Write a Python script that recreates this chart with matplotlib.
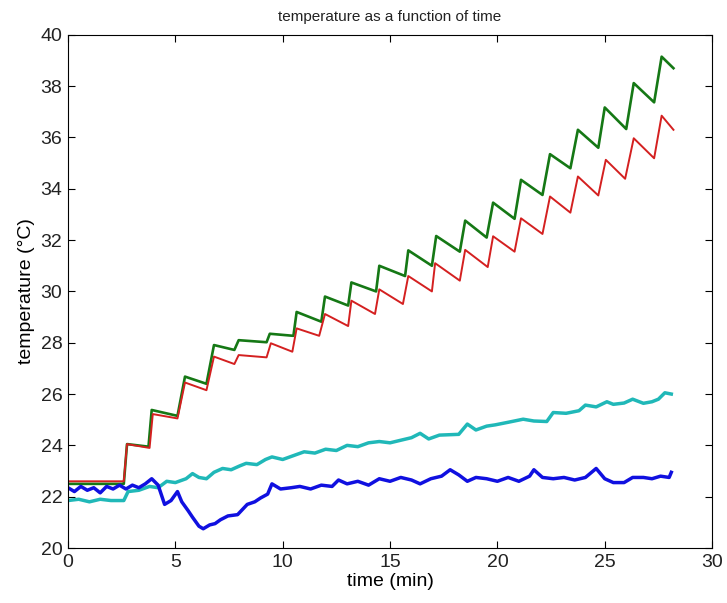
import matplotlib
matplotlib.use("Agg")
import matplotlib.pyplot as plt

# readings: time (min), temperature (degC)
green_t = [0, 2.6, 2.75, 3.75, 3.9, 5.1, 5.45, 6.45, 6.8, 7.75, 7.95, 9.25, 9.4, 10.5,
           10.65, 11.8, 11.97, 13.05, 13.2, 14.35, 14.5, 15.7, 15.85, 16.95, 17.15, 18.25,
           18.5, 19.5, 19.8, 20.8, 21.1, 22.1, 22.45, 23.4, 23.75, 24.7, 25.0, 26.0, 26.35,
           27.3, 27.65, 28.2]
green_T = [22.5, 22.5, 24.05, 23.95, 25.38, 25.15, 26.68, 26.4, 27.91, 27.72, 28.1, 28.02,
           28.35, 28.27, 29.2, 28.82, 29.8, 29.45, 30.35, 30.0, 31.0, 30.6, 31.6, 31.0, 32.16,
           31.55, 32.76, 32.1, 33.46, 32.83, 34.35, 33.76, 35.35, 34.8, 36.3, 35.6, 37.17,
           36.33, 38.12, 37.37, 39.15, 38.7]

red_t = [0, 2.6, 2.75, 3.8, 3.95, 5.1, 5.45, 6.45, 6.8, 7.75, 7.95, 9.25, 9.45, 10.45,
         10.65, 11.7, 11.97, 13.05, 13.2, 14.3, 14.5, 15.6, 15.85, 16.95, 17.1, 18.25, 18.5,
         19.55, 19.8, 20.8, 21.1, 22.1, 22.45, 23.4, 23.75, 24.7, 25.05, 25.95, 26.35, 27.3,
         27.65, 28.2]
red_T = [22.6, 22.6, 24.05, 23.9, 25.22, 25.05, 26.45, 26.15, 27.46, 27.17, 27.52, 27.43,
         27.98, 27.65, 28.56, 28.27, 29.12, 28.65, 29.64, 29.12, 30.08, 29.51, 30.6, 30.0,
         31.1, 30.42, 31.62, 30.95, 32.15, 31.55, 32.85, 32.24, 33.7, 33.07, 34.48, 33.74,
         35.13, 34.39, 35.97, 35.19, 36.85, 36.3]

cyan_t = [0, 0.5, 1, 1.5, 2, 2.6, 2.8, 3.3, 3.8, 4.2, 4.6, 5.0, 5.5, 5.8, 6.1, 6.45, 6.8,
          7.2, 7.6, 8.0, 8.3, 8.8, 9.2, 9.5, 10.0, 10.5, 11.0, 11.5, 12.0, 12.5, 13.0, 13.5,
          14.0, 14.5, 15.0, 15.5, 16.0, 16.4, 16.8, 17.3, 18.2, 18.6, 19.0, 19.5, 19.9, 20.5,
          21.2, 21.7, 22.3, 22.6, 23.2, 23.8, 24.1, 24.6, 25.1, 25.4, 25.9, 26.3, 26.8, 27.2,
          27.5, 27.8, 28.1]
cyan_T = [21.85, 21.9, 21.8, 21.9, 21.85, 21.85, 22.2, 22.25, 22.4, 22.35, 22.6, 22.55,
          22.7, 22.9, 22.75, 22.7, 22.95, 23.1, 23.05, 23.2, 23.3, 23.25, 23.45, 23.55, 23.45,
          23.6, 23.75, 23.7, 23.85, 23.8, 24.0, 23.95, 24.1, 24.15, 24.1, 24.2, 24.3, 24.47,
          24.25, 24.4, 24.43, 24.83, 24.6, 24.75, 24.8, 24.9, 25.02, 24.95, 24.93, 25.28,
          25.25, 25.35, 25.57, 25.5, 25.7, 25.6, 25.65, 25.8, 25.64, 25.7, 25.8, 26.05, 26.0]

blue_t = [0, 0.3, 0.6, 0.9, 1.2, 1.5, 1.8, 2.1, 2.4, 2.7, 3.0, 3.3, 3.6, 3.9, 4.2, 4.5,
          4.8, 5.1, 5.3, 5.6, 5.8, 6.1, 6.3, 6.6, 6.85, 7.1, 7.45, 7.9, 8.35, 8.7, 8.97, 9.3,
          9.5, 9.9, 10.4, 10.8, 11.3, 11.8, 12.3, 12.6, 13.0, 13.5, 14.0, 14.5, 15.0, 15.5,
          16.0, 16.4, 16.9, 17.4, 17.8, 18.2, 18.6, 19.0, 19.5, 20.0, 20.5, 21.0, 21.5, 21.7,
          22.1, 22.6, 23.1, 23.6, 24.1, 24.6, 25.0, 25.4, 25.9, 26.3, 26.8, 27.2, 27.6, 28.0,
          28.1]
blue_T = [22.35, 22.2, 22.4, 22.25, 22.35, 22.15, 22.4, 22.3, 22.45, 22.3, 22.45, 22.35,
          22.5, 22.7, 22.45, 21.7, 21.85, 22.2, 21.8, 21.45, 21.2, 20.85, 20.75, 20.9, 20.95,
          21.1, 21.25, 21.3, 21.7, 21.8, 21.95, 22.1, 22.5, 22.3, 22.35, 22.4, 22.3, 22.45,
          22.4, 22.65, 22.5, 22.6, 22.45, 22.7, 22.6, 22.75, 22.65, 22.5, 22.7, 22.8, 23.05,
          22.85, 22.6, 22.75, 22.7, 22.6, 22.75, 22.6, 22.8, 23.05, 22.75, 22.7, 22.75, 22.65,
          22.75, 23.1, 22.7, 22.55, 22.55, 22.75, 22.75, 22.7, 22.8, 22.75, 22.95]

plt.rcParams['font.family'] = ['Liberation Sans', 'DejaVu Sans']
plt.rcParams['text.color'] = '#222222'

fig = plt.figure(figsize=(7.27, 6.03), dpi=100)
ax = fig.add_axes([0.0935, 0.0912, 0.886, 0.851])

ax.plot(green_t, green_T, color='#157815', linewidth=1.9)
ax.plot(red_t, red_T, color='#d42020', linewidth=1.4)
ax.plot(cyan_t, cyan_T, color='#20b8b8', linewidth=2.5)
ax.plot(blue_t, blue_T, color='#1010e0', linewidth=2.5)

ax.set_xlim(0, 30)
ax.set_ylim(20, 40)
ax.set_xticks(range(0, 31, 5))
ax.set_yticks(range(20, 41, 2))
ax.tick_params(direction='in', top=True, right=True, length=5, labelsize=14, pad=4,
               labelcolor='#222222')

ax.set_title('temperature as a function of time', fontsize=11, pad=10)
ax.set_xlabel('time (min)', fontsize=14, labelpad=2)
ax.set_ylabel('temperature (\u00b0C)', fontsize=14, labelpad=4)

fig.savefig('out.png', dpi=100)
